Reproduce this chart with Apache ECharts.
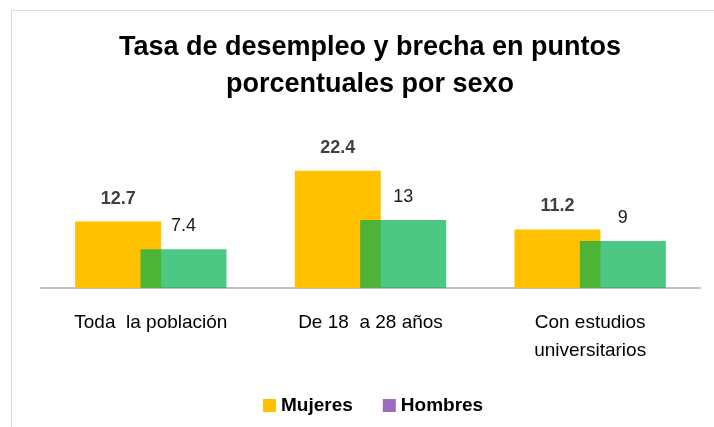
<!DOCTYPE html>
<html>
<head>
<meta charset="utf-8">
<script src="https://cdn.jsdelivr.net/npm/echarts@6/dist/echarts.min.js"></script>
<style>
  html, body { margin: 0; padding: 0; background: #fff; }
  #chart { width: 714px; height: 427px; }
</style>
</head>
<body>
<div id="chart"></div>
<script>
// datos
const categorias = ['Toda  la población', 'De 18  a 28 años', 'Con estudios\nuniversitarios']
const mujeres = [12.7, 22.4, 11.2]
const hombres = [7.4, 13, 9]

const FONT = '"Liberation Sans Narrow", "Arial Narrow", "Liberation Sans", sans-serif'

const chart = echarts.init(document.getElementById('chart'))

chart.setOption({
  backgroundColor: '#fff',
  animation: false,
  textStyle: { fontFamily: FONT },
  title: {
    text: 'Tasa de desempleo y brecha en puntos\nporcentuales por sexo',
    left: 365,
    textAlign: 'center',
    top: 24,
    textStyle: {
      fontFamily: FONT,
      fontSize: 27,
      fontWeight: 'bold',
      color: '#000',
      lineHeight: 37
    }
  },
  graphic: [{
    type: 'rect',
    shape: { x: 11.5, y: 10.5, width: 740, height: 440 },
    style: { fill: 'none', stroke: '#d9d9d9', lineWidth: 1 },
    silent: true
  }],
  legend: {
    left: 258,
    top: 391,
    itemWidth: 13,
    itemHeight: 13,
    itemGap: 30,
    icon: 'rect',
    textStyle: { fontFamily: FONT, fontSize: 19, fontWeight: 'bold', color: '#000' },
    data: [
      { name: 'Mujeres', itemStyle: { color: '#FFC000' } },
      { name: 'Hombres', itemStyle: { color: '#9B6BBD' } }
    ]
  },
  grid: { left: 41, right: 14, top: 131, bottom: 139 },
  xAxis: {
    type: 'category',
    data: categorias,
    axisLine: { lineStyle: { color: '#bfbfbf', width: 2 } },
    axisTick: { show: false },
    axisLabel: {
      fontFamily: FONT,
      fontSize: 19,
      color: '#000',
      margin: 21,
      lineHeight: 28,
      interval: 0
    }
  },
  yAxis: {
    type: 'value',
    min: 0,
    max: 30,
    show: false,
    splitLine: { show: false }
  },
  series: [
    {
      name: 'Mujeres',
      type: 'bar',
      data: mujeres,
      barWidth: 86,
      barGap: '-24%',
      itemStyle: { color: '#FFC000' },
      label: {
        show: true,
        position: 'top',
        distance: 14,
        fontFamily: FONT,
        fontSize: 18,
        fontWeight: 'bold',
        color: '#404040'
      }
    },
    {
      name: 'Hombres',
      type: 'bar',
      data: hombres,
      barWidth: 86,
      itemStyle: { color: 'rgba(0,176,80,0.7)' },
      label: {
        show: true,
        position: 'top',
        distance: 14,
        fontFamily: FONT,
        fontSize: 18,
        color: '#1a1a1a'
      }
    }
  ]
})
</script>
</body>
</html>
